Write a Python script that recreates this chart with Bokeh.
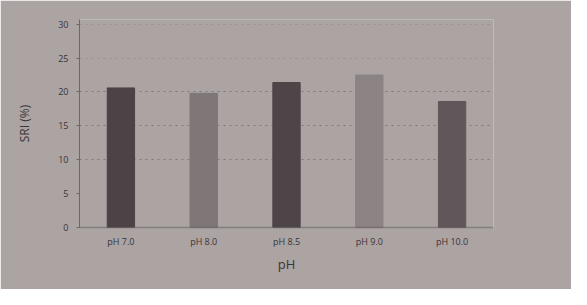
from bokeh.plotting import figure
from bokeh.models import ColumnDataSource, Range1d, FixedTicker, Grid
from bokeh.embed import file_html
from bokeh.resources import INLINE

categories = ["pH 7.0", "pH 8.0", "pH 8.5", "pH 9.0", "pH 10.0"]
sri_values = [20.6, 19.8, 21.4, 22.5, 18.6]
bar_colors = ["#4b4345", "#7e7677", "#4d4547", "#8b8384", "#5f5759"]
y_ticks = [0, 5, 10, 15, 20, 25, 30]

src = ColumnDataSource(dict(cat=categories, val=sri_values, color=bar_colors))

bg = "#aca3a3"
p = figure(x_range=categories, y_range=Range1d(0, 30.7), width=571, height=289,
           output_backend="svg", toolbar_location=None,
           min_border_left=79, min_border_right=78, min_border_top=19, min_border_bottom=62)
p.background_fill_color = bg
p.border_fill_color = bg
p.outline_line_color = None

p.vbar(x="cat", top="val", width=0.33, color="color", source=src)

font = "Open Sans"
p.yaxis.ticker = FixedTicker(ticks=y_ticks)
p.yaxis.axis_label = "SRI (%)"
p.yaxis.axis_label_text_font = font
p.yaxis.axis_label_text_font_style = "normal"
p.yaxis.axis_label_text_font_size = "12px"
p.yaxis.axis_label_text_color = "#3a3536"
p.yaxis.axis_label_standoff = 22
p.yaxis.major_label_text_font = font
p.yaxis.major_label_text_font_size = "9px"
p.yaxis.major_label_text_color = "#3a3536"
p.yaxis.axis_line_color = "#6e6667"
p.yaxis.major_tick_line_color = "#6e6667"
p.yaxis.major_tick_out = 3
p.yaxis.major_tick_in = 0
p.yaxis.minor_tick_line_color = None
p.yaxis.major_label_standoff = 8

p.xaxis.axis_label = "pH"
p.xaxis.axis_label_text_font = font
p.xaxis.axis_label_text_font_style = "normal"
p.xaxis.axis_label_text_font_size = "13px"
p.xaxis.axis_label_text_color = "#3a3536"
p.xaxis.axis_label_standoff = 4
p.xaxis.major_label_text_font = font
p.xaxis.major_label_text_font_size = "9px"
p.xaxis.major_label_text_color = "#3a3536"
p.xaxis.axis_line_color = "#4e4748"
p.xaxis.axis_line_dash = "1 1"
p.xaxis.axis_line_width = 1.5
p.xaxis.major_tick_line_color = None
p.xaxis.major_tick_out = 0
p.xaxis.major_tick_in = 0
p.xaxis.minor_tick_line_color = None
p.xaxis.major_label_standoff = 7

p.xgrid.grid_line_color = None
p.ygrid.ticker = FixedTicker(ticks=[10, 15, 20])
p.ygrid.grid_line_color = "#6e6667"
p.ygrid.grid_line_dash = "2 4"
p.ygrid.grid_line_alpha = 0.7

faint = Grid(dimension=1, ticker=FixedTicker(ticks=[25, 30]),
             grid_line_color="#8a8283", grid_line_dash="2 4", grid_line_alpha=0.5)
p.add_layout(faint, "center")

open("out.html", "w").write(file_html(p, INLINE))
